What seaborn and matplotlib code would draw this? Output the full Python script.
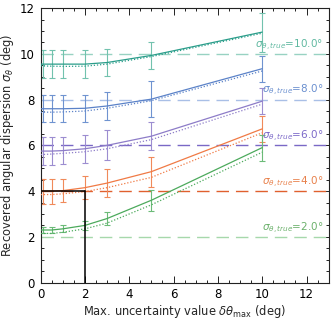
import numpy as np
import pandas as pd
import matplotlib
matplotlib.use("Agg")
import matplotlib.pyplot as plt
import seaborn as sns

# ---- data ----
x_vals = [0.01, 0.1, 0.5, 1, 2, 3, 5, 10]
true_vals = [10.0, 8.0, 6.0, 4.0, 2.0]

mean_10 = [9.55, 9.55, 9.55, 9.55, 9.55, 9.62, 9.93, 10.95]
dot_10 = [9.48, 9.47, 9.46, 9.45, 9.46, 9.55, 9.88, 10.90]
err_10 = [0.60, 0.60, 0.60, 0.60, 0.60, 0.58, 0.60, 0.85]

mean_8 = [7.60, 7.60, 7.60, 7.60, 7.62, 7.72, 8.02, 9.35]
dot_8 = [7.45, 7.45, 7.45, 7.46, 7.50, 7.62, 7.95, 9.25]
err_8 = [0.58, 0.58, 0.58, 0.58, 0.58, 0.62, 0.80, 0.57]

mean_6 = [5.75, 5.75, 5.75, 5.77, 5.85, 6.00, 6.40, 7.93]
dot_6 = [5.60, 5.60, 5.62, 5.65, 5.72, 5.85, 6.25, 7.80]
err_6 = [0.60, 0.60, 0.60, 0.60, 0.60, 0.65, 0.60, 0.58]

mean_4 = [4.00, 4.00, 4.00, 4.02, 4.15, 4.35, 4.85, 6.72]
dot_4 = [3.85, 3.85, 3.85, 3.88, 3.98, 4.15, 4.60, 6.55]
err_4 = [0.55, 0.55, 0.55, 0.50, 0.50, 0.60, 0.65, 0.58]

mean_2 = [2.30, 2.30, 2.30, 2.35, 2.50, 2.80, 3.60, 5.90]
dot_2 = [2.15, 2.15, 2.15, 2.20, 2.35, 2.60, 3.40, 5.70]
err_2 = [0.12, 0.12, 0.12, 0.15, 0.20, 0.30, 0.45, 0.57]

labels = ["10.0", "8.0", "6.0", "4.0", "2.0"]
line_colors = ["#2a9d8a", "#5b82c8", "#8d7cc8", "#f07a45", "#4caa5c"]
bar_colors = ["#72c2ae", "#6f93d0", "#9c8dd0", "#f08a5a", "#6cbb78"]
dash_colors = ["#98d2c2", "#a9bfe6", "#7a68c6", "#e0602e", "#a6d8ab"]
label_colors = ["#5fb8a0", "#6a8fcf", "#7b68c8", "#e8804a", "#6ab06a"]

means = [mean_10, mean_8, mean_6, mean_4, mean_2]
dots = [dot_10, dot_8, dot_6, dot_4, dot_2]
errs = [err_10, err_8, err_6, err_4, err_2]

rows = []
for lab, m, d, e in zip(labels, means, dots, errs):
    for xv, mv, dv, ev in zip(x_vals, m, d, e):
        rows.append(dict(series=lab, x=xv, mean=mv, dot=dv, err=ev))
df = pd.DataFrame(rows)

sns.set_style("ticks")
plt.rcParams['font.family'] = ['DejaVu Sans']
plt.rcParams['mathtext.fontset'] = 'dejavusans'

fig = plt.figure(figsize=(3.32, 3.23), dpi=100)
ax = fig.add_axes([0.122, 0.125, 0.868, 0.85])

pal_line = dict(zip(labels, line_colors))

# dashed true-value lines
for tv, c in zip(true_vals, dash_colors):
    ax.axhline(tv, color=c, lw=1.0, dashes=(9, 5), zorder=1)

# error bars
for lab, bc in zip(labels, bar_colors):
    sub = df[df.series == lab]
    ax.errorbar(sub.x, sub["mean"], yerr=sub.err, fmt='none', ecolor=bc,
                elinewidth=0.8, capsize=2.5, capthick=0.8, zorder=2)

sns.lineplot(data=df, x="x", y="mean", hue="series", palette=pal_line,
             estimator=None, lw=0.9, legend=False, ax=ax, zorder=3)
sns.lineplot(data=df, x="x", y="dot", hue="series", palette=pal_line,
             estimator=None, lw=0.9, legend=False, ax=ax, zorder=3,
             linestyle=(0, (1, 1.5)))

# black reference lines
ax.plot([0, 2], [4, 4], color="black", lw=1.1, zorder=4)
ax.plot([2, 2], [0, 4], color="black", lw=1.1, zorder=4)

# labels of true values
for tv, lab, c in zip(true_vals, labels, label_colors):
    ax.text(12.75, tv + 0.05, r"$\sigma_{\theta,\mathit{true}}$=" + lab + "°",
            color=c, fontsize=7.5, ha="right", va="bottom", zorder=5)

ax.set_xlim(0, 13)
ax.set_ylim(0, 12)
ax.set_xticks([0, 2, 4, 6, 8, 10, 12])
ax.set_yticks([0, 2, 4, 6, 8, 10, 12])
ax.set_xticks(np.arange(0, 13.01, 0.5), minor=True)
ax.set_yticks(np.arange(0, 12.01, 0.5), minor=True)
ax.tick_params(which="both", direction="in", top=True, right=True,
               labelsize=8.5, color="#222222", width=0.7, labelcolor="black")
ax.tick_params(which="major", length=5, pad=4)
ax.tick_params(which="minor", length=2.5)
for s in ax.spines.values():
    s.set_linewidth(0.8)
    s.set_color("#222222")

ax.set_xlabel(r"Max. uncertainty value $\delta\theta_{\rm max}$ (deg)", fontsize=8.3, labelpad=1)
ax.set_ylabel(r"Recovered angular dispersion $\sigma_{\theta}$ (deg)", fontsize=8.3, labelpad=3)

fig.savefig("out.png", dpi=100)
